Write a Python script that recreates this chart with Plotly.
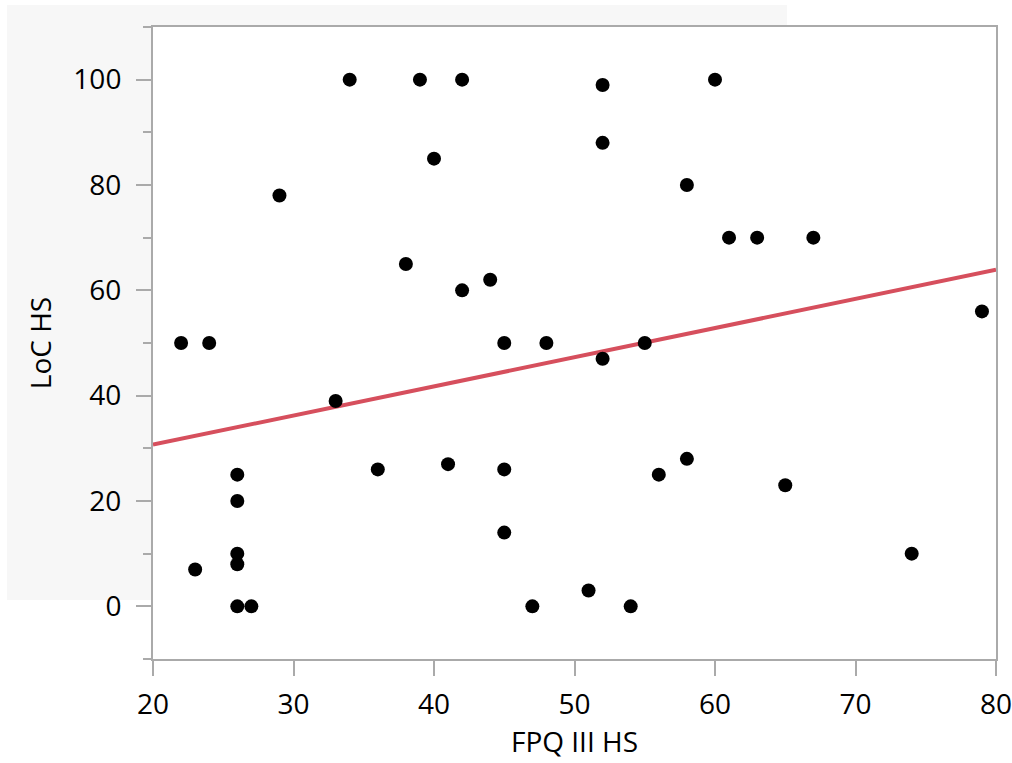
import plotly.graph_objects as go

fpq = [22, 24, 23, 26, 26, 26, 26, 26, 27, 29, 33, 34, 36, 38, 39, 40, 41, 42, 42, 44,
       45, 45, 45, 47, 48, 51, 52, 52, 52, 54, 55, 56, 58, 58, 60, 61, 63, 65, 67, 74, 79]
loc = [50, 50, 7, 25, 20, 10, 8, 0, 0, 78, 39, 100, 26, 65, 100, 85, 27, 100, 60, 62,
       50, 26, 14, 0, 50, 3, 99, 88, 47, 0, 50, 25, 28, 80, 100, 70, 70, 23, 70, 10, 56]

# fitted line
fit_x = [20, 80]
fit_y = [30.7, 63.9]

x_ticks = [20, 30, 40, 50, 60, 70, 80]
y_ticks = [0, 20, 40, 60, 80, 100]

font = "Open Sans"
fig = go.Figure()
fig.add_trace(go.Scatter(x=fit_x, y=fit_y, mode="lines",
                         line=dict(color="#d64f5d", width=4), showlegend=False, hoverinfo="skip"))
fig.add_trace(go.Scatter(x=fpq, y=loc, mode="markers",
                         marker=dict(color="black", size=14), showlegend=False))

fig.add_shape(type="rect", xref="paper", yref="paper", x0=-0.1732, x1=0.752, y0=0.0934, y1=1.0348,
              fillcolor="#f7f7f7", line=dict(width=0), layer="below")
fig.add_shape(type="rect", xref="x domain", yref="y domain", x0=0, x1=1, y0=0, y1=1,
              fillcolor="white", line=dict(width=0), layer="below")

axis_common = dict(showline=True, linecolor="#aaaaaa", linewidth=2, mirror=True,
                   ticks="outside", ticklen=15, tickwidth=2, tickcolor="#aaaaaa",
                   showgrid=False, zeroline=False, ticklabeloverflow="allow", automargin=False,
                   tickfont=dict(family=font, size=28, color="black"))

fig.update_xaxes(range=[20, 80], tickvals=x_ticks, ticktext=[str(v) for v in x_ticks],
                 ticklabelstandoff=4,
                 title=dict(text="FPQ III HS", font=dict(family=font, size=28, color="black"), standoff=10),
                 **axis_common)
fig.update_yaxes(range=[-10, 110], tickvals=y_ticks, ticktext=[str(v) for v in y_ticks],
                 ticklabelstandoff=9,
                 title=dict(text="LoC HS", font=dict(family=font, size=28, color="black"), standoff=14),
                 minor=dict(ticks="outside", ticklen=8, tickwidth=2, tickcolor="#aaaaaa", dtick=20, tick0=10),
                 **axis_common)

fig.update_layout(width=1012, height=763, margin=dict(l=153, r=16, t=27, b=104),
                  paper_bgcolor="white", plot_bgcolor="rgba(0,0,0,0)",
                  font=dict(family=font, color="black"))
fig.write_html("out.html", config={"displayModeBar": False},
               post_script="document.body.style.margin='0';")
